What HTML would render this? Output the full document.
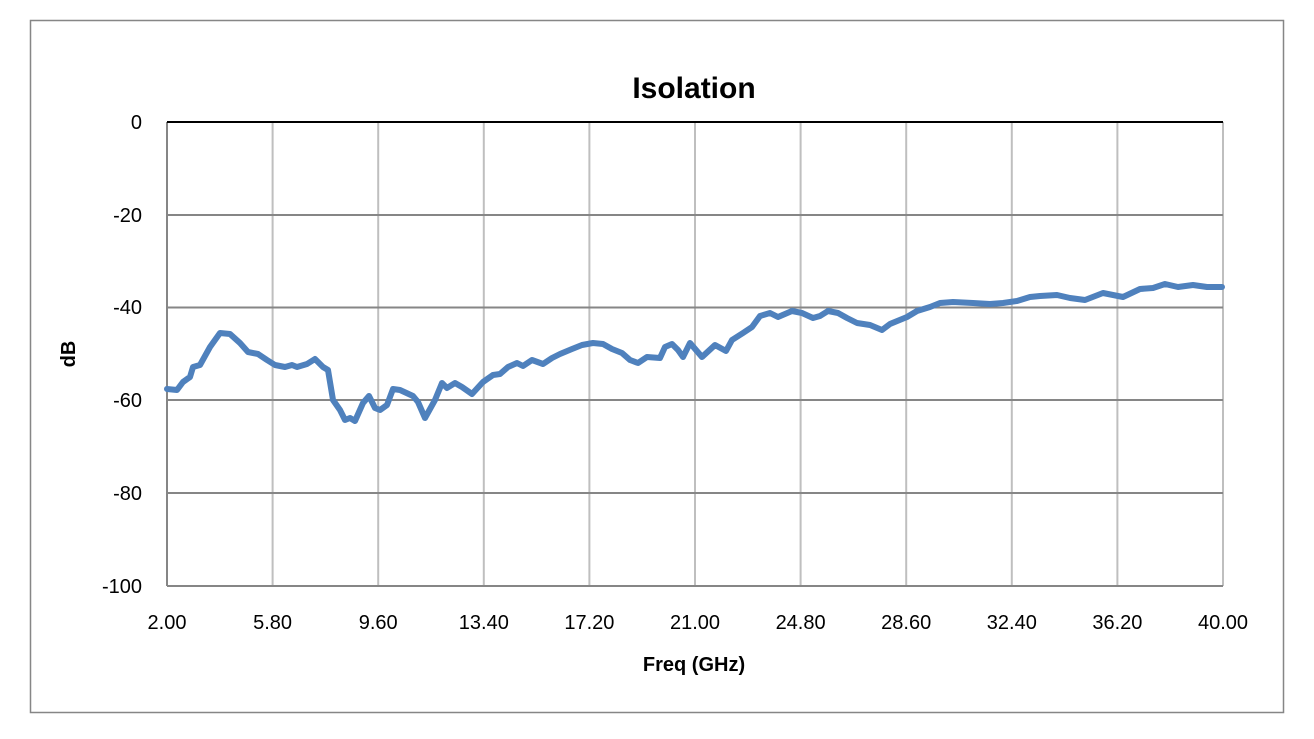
<!DOCTYPE html>
<html><head><style>
body{margin:0;background:#fff;}
svg{display:block;font-family:"Liberation Sans",Calibri,sans-serif;}
</style></head><body>
<svg width="1314" height="739" viewBox="0 0 1314 739">
<rect x="0" y="0" width="1314" height="739" fill="#fff"/>
<rect x="30.5" y="20.5" width="1253" height="692" fill="#fff" stroke="#868686" stroke-width="1.5"/>
<text x="694" y="98" text-anchor="middle" font-size="30" font-weight="bold" fill="#000">Isolation</text>
<g stroke="#bfbfbf" stroke-width="2">
<line x1="272.6" y1="122" x2="272.6" y2="586"/><line x1="378.2" y1="122" x2="378.2" y2="586"/>
<line x1="483.8" y1="122" x2="483.8" y2="586"/><line x1="589.4" y1="122" x2="589.4" y2="586"/>
<line x1="695" y1="122" x2="695" y2="586"/><line x1="800.6" y1="122" x2="800.6" y2="586"/>
<line x1="906.2" y1="122" x2="906.2" y2="586"/><line x1="1011.8" y1="122" x2="1011.8" y2="586"/>
<line x1="1117.4" y1="122" x2="1117.4" y2="586"/><line x1="1223" y1="122" x2="1223" y2="586"/>
</g>
<g stroke="#868686" stroke-width="2">
<line x1="167" y1="215" x2="1223" y2="215"/><line x1="167" y1="307.5" x2="1223" y2="307.5"/>
<line x1="167" y1="400" x2="1223" y2="400"/><line x1="167" y1="493" x2="1223" y2="493"/>
<line x1="167" y1="586" x2="1223" y2="586"/><line x1="167" y1="122" x2="167" y2="586"/>
</g>
<line x1="167" y1="122" x2="1223" y2="122" stroke="#000" stroke-width="2"/>
<g font-size="20" fill="#000" text-anchor="end">
<text x="142" y="129">0</text><text x="142" y="222">-20</text><text x="142" y="314">-40</text>
<text x="142" y="407">-60</text><text x="142" y="500">-80</text><text x="142" y="593">-100</text>
</g>
<g font-size="20" fill="#000" text-anchor="middle">
<text x="167" y="629">2.00</text><text x="272.6" y="629">5.80</text><text x="378.2" y="629">9.60</text>
<text x="483.8" y="629">13.40</text><text x="589.4" y="629">17.20</text><text x="695" y="629">21.00</text>
<text x="800.6" y="629">24.80</text><text x="906.2" y="629">28.60</text><text x="1011.8" y="629">32.40</text>
<text x="1117.4" y="629">36.20</text><text x="1223" y="629">40.00</text>
</g>
<text x="694" y="671" text-anchor="middle" font-size="20" font-weight="bold">Freq (GHz)</text>
<text transform="translate(75,354) rotate(-90)" text-anchor="middle" font-size="20" font-weight="bold">dB</text>
<polyline fill="none" stroke="#4f81bd" stroke-width="6" stroke-linejoin="round" stroke-linecap="round" points="
167,389 177,390 183,382 190,377 193,367 200,365 210,347 220,333 230,334 240,343 248,352 258,354 267,360 275,365 285,367 292,365 297,367 307,364 315,359 323,367 328,370 333,400 340,410 345,420 350,418 355,421 363,403 369,396 375,408 380,410 387,405 393,389 400,390 413,396 418,402 425,418 435,400 442,383 447,388 455,383 462,387 472,394 483,382 493,375 500,374 508,367 517,363 523,366 532,360 543,364 552,358 560,354 572,349 582,345 593,343 603,344 612,349 622,353 630,360 638,363 647,357 660,358 665,347 672,344 678,350 683,357 690,343 702,357 715,345 726,351 732,340 743,333 752,327 760,316 770,313 778,317 792,311 802,313 813,318 820,316 828,311 838,313 847,318 857,323 870,325 882,330 890,324 907,317 917,311 930,307 940,303 953,302 973,303 990,304 1003,303 1017,301 1030,297 1040,296 1057,295 1070,298 1085,300 1103,293 1123,297 1140,289 1153,288 1165,284 1178,287 1193,285 1207,287 1222,287"/>
</svg>
</body></html>
